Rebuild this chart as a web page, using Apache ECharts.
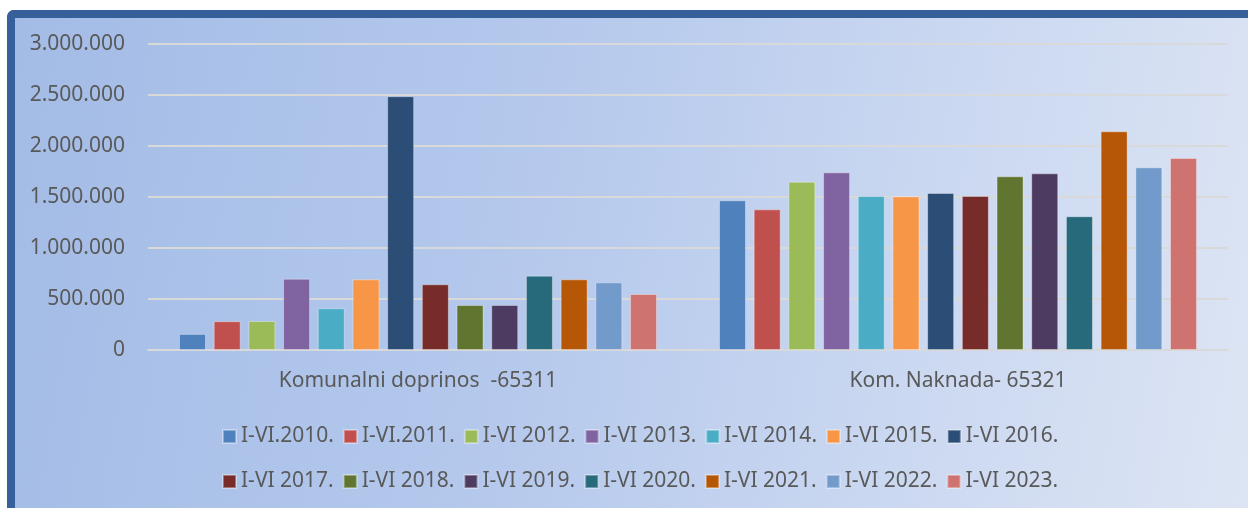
<!DOCTYPE html>
<html>
<head>
<meta charset="utf-8">
<script src="https://cdn.jsdelivr.net/npm/echarts@6/dist/echarts.min.js"></script>
<style>
    html, body { margin: 0; padding: 0; background: #fff; }
    #frame {
        position: absolute; left: 7px; top: 10px; width: 1241px; height: 498px;
        box-sizing: border-box;
        border-left: 8px solid #36609a; border-top: 8px solid #36609a;
        border-top-left-radius: 7px;
        background: linear-gradient(100deg, #a3bce6 0%, #b4c8ec 40%, #ccd9f1 75%, #dde5f4 100%);
    }
    #chart { position: absolute; left: 0; top: 0; width: 1248px; height: 508px; }
</style>
</head>
<body>
<div id="frame"></div>
<div id="chart"></div>
<script>
// podaci sa slike (procjena)
var categories = ['Komunalni doprinos  -65311', 'Kom. Naknada- 65321'];
var seriesNames = ['I-VI.2010.', 'I-VI.2011.', 'I-VI 2012.', 'I-VI 2013.', 'I-VI 2014.', 'I-VI 2015.', 'I-VI 2016.',
    'I-VI 2017.', 'I-VI 2018.', 'I-VI 2019.', 'I-VI 2020.', 'I-VI 2021.', 'I-VI 2022.', 'I-VI 2023.'];
var doprinos = [158000, 282000, 284000, 699000, 409000, 693000, 2488000, 644000, 441000, 441000, 729000, 693000, 663000, 549000];
var naknada = [1468000, 1379000, 1650000, 1742000, 1510000, 1506000, 1539000, 1510000, 1703000, 1732000, 1311000, 2144000, 1791000, 1882000];
var colors = ['#4f81bd', '#c0504d', '#9bbb59', '#8064a2', '#4bacc6', '#f79646', '#2c4d75',
    '#772c2a', '#5f7530', '#4d3b62', '#276a7c', '#b65708', '#729aca', '#cf7371'];
var yTicks = [0, 500000, 1000000, 1500000, 2000000, 2500000, 3000000];

var font = 'Noto Sans';
var textColor = '#595959';

function formatNum(v) {
    return String(v).replace(/\B(?=(\d{3})+(?!\d))/g, '.');
}

var series = [];
for (var i = 0; i < seriesNames.length; i++) {
    series.push({
        name: seriesNames[i],
        type: 'bar',
        barWidth: 27,
        barGap: '28.5%',
        data: [doprinos[i], naknada[i]],
        itemStyle: {color: colors[i], borderColor: 'rgba(255,255,255,0.35)', borderWidth: 1}
    });
}

function legendRow(names, top) {
    return {
        data: names,
        left: 222, top: top,
        padding: 0,
        orient: 'horizontal',
        itemWidth: 13, itemHeight: 13, itemGap: 9,
        icon: 'rect',
        textStyle: {color: textColor, fontFamily: font, fontSize: 21}
    };
}

var chart = echarts.init(document.getElementById('chart'));
chart.setOption({
    backgroundColor: 'transparent',
    animation: false,
    color: colors,
    grid: {left: 148, right: 20, top: 44, bottom: 158},
    legend: [legendRow(seriesNames.slice(0, 7), 426), legendRow(seriesNames.slice(7), 471)],
    xAxis: {
        type: 'category',
        data: categories,
        axisLine: {lineStyle: {color: '#d9d9d9', width: 2}},
        axisTick: {show: false},
        axisLabel: {color: textColor, fontFamily: font, fontSize: 21, margin: 21}
    },
    yAxis: {
        type: 'value',
        min: yTicks[0], max: yTicks[yTicks.length - 1], interval: yTicks[1] - yTicks[0],
        axisLine: {show: false},
        axisTick: {show: false},
        splitLine: {lineStyle: {color: '#d9d9d9', width: 2}},
        axisLabel: {color: textColor, fontFamily: font, fontSize: 21, margin: 23, formatter: formatNum}
    },
    series: series
});
</script>
</body>
</html>
